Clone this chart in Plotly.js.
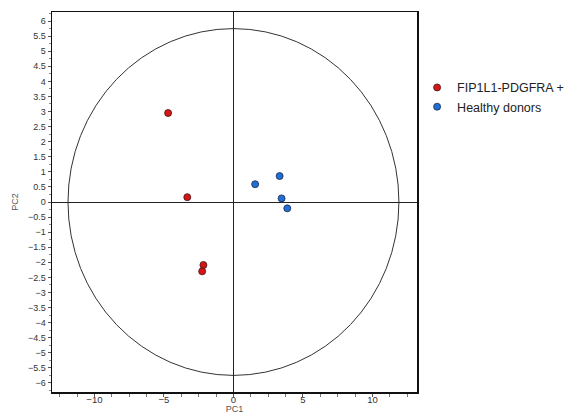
<!DOCTYPE html>
<html>
<head>
<meta charset="utf-8">
<script src="https://cdn.plot.ly/plotly-3.0.1.min.js"></script>
<style>html,body{margin:0;padding:0;background:#fff;}#chart{width:571px;height:414px;}</style>
</head>
<body>
<div id="chart"></div>
<script>
const seriesNames = ["FIP1L1-PDGFRA +", "Healthy donors"];
const patientPC1 = [-4.7, -3.32, -2.16, -2.25];
const patientPC2 = [2.95, 0.16, -2.09, -2.30];
const donorPC1 = [1.56, 3.32, 3.46, 3.87];
const donorPC2 = [0.59, 0.86, 0.12, -0.21];
const ellipseRadiusPC1 = 11.9;
const ellipseRadiusPC2 = 5.75;

const traces = [
  {x: patientPC1, y: patientPC2, mode: 'markers', type: 'scatter', name: seriesNames[0],
   marker: {size: 7, color: '#d81414', line: {color: '#3a1a1a', width: 0.8}}},
  {x: donorPC1, y: donorPC2, mode: 'markers', type: 'scatter', name: seriesNames[1],
   marker: {size: 7, color: '#1f6fd6', line: {color: '#1a2a4a', width: 0.8}}}
];

const layout = {
  width: 571, height: 414,
  margin: {l: 52, r: 154, t: 12, b: 22},
  paper_bgcolor: '#fff', plot_bgcolor: '#fff',
  font: {family: 'Liberation Sans, Arial, sans-serif', color: '#333'},
  showlegend: true,
  legend: {xref: 'container', x: 0.7305, y: 0.84, xanchor: 'left', yanchor: 'top',
           font: {size: 12.5, color: '#222'}, itemwidth: 30, tracegroupgap: 0,
           bgcolor: 'rgba(0,0,0,0)', borderwidth: 0},
  xaxis: {range: [-13.05, 13.2], showgrid: false, zeroline: true, zerolinecolor: '#222', zerolinewidth: 1,
          dtick: 5, tick0: 0, ticks: 'outside', ticklen: 3, tickcolor: '#555', tickfont: {size: 9.5, color: '#333'},
          ticklabelstandoff: -5,
          minor: {dtick: 1.25, ticks: 'outside', ticklen: 3, tickcolor: '#777'},
          showline: true, linecolor: '#111', linewidth: 1.5, mirror: true,
          title: {text: 'PC1', font: {size: 9, color: '#555'}, standoff: 2}},
  yaxis: {range: [-6.3, 6.3], showgrid: false, zeroline: true, zerolinecolor: '#222', zerolinewidth: 1,
          dtick: 0.5, tick0: 0, ticks: 'outside', ticklen: 3, tickcolor: '#555', tickfont: {size: 9, color: '#333'},
          minor: {dtick: 0.25, ticks: 'outside', ticklen: 2, tickcolor: '#888'},
          showline: true, linecolor: '#111', linewidth: 1.5, mirror: true,
          title: {text: 'PC2', font: {size: 9, color: '#555'}, standoff: 8}},
  shapes: [
    {type: 'circle', xref: 'x', yref: 'y', x0: -ellipseRadiusPC1, x1: ellipseRadiusPC1,
     y0: -ellipseRadiusPC2, y1: ellipseRadiusPC2, line: {color: '#333', width: 1}, layer: 'below'}
  ]
};

Plotly.newPlot('chart', traces, layout, {displayModeBar: false, staticPlot: true});
</script>
</body>
</html>
